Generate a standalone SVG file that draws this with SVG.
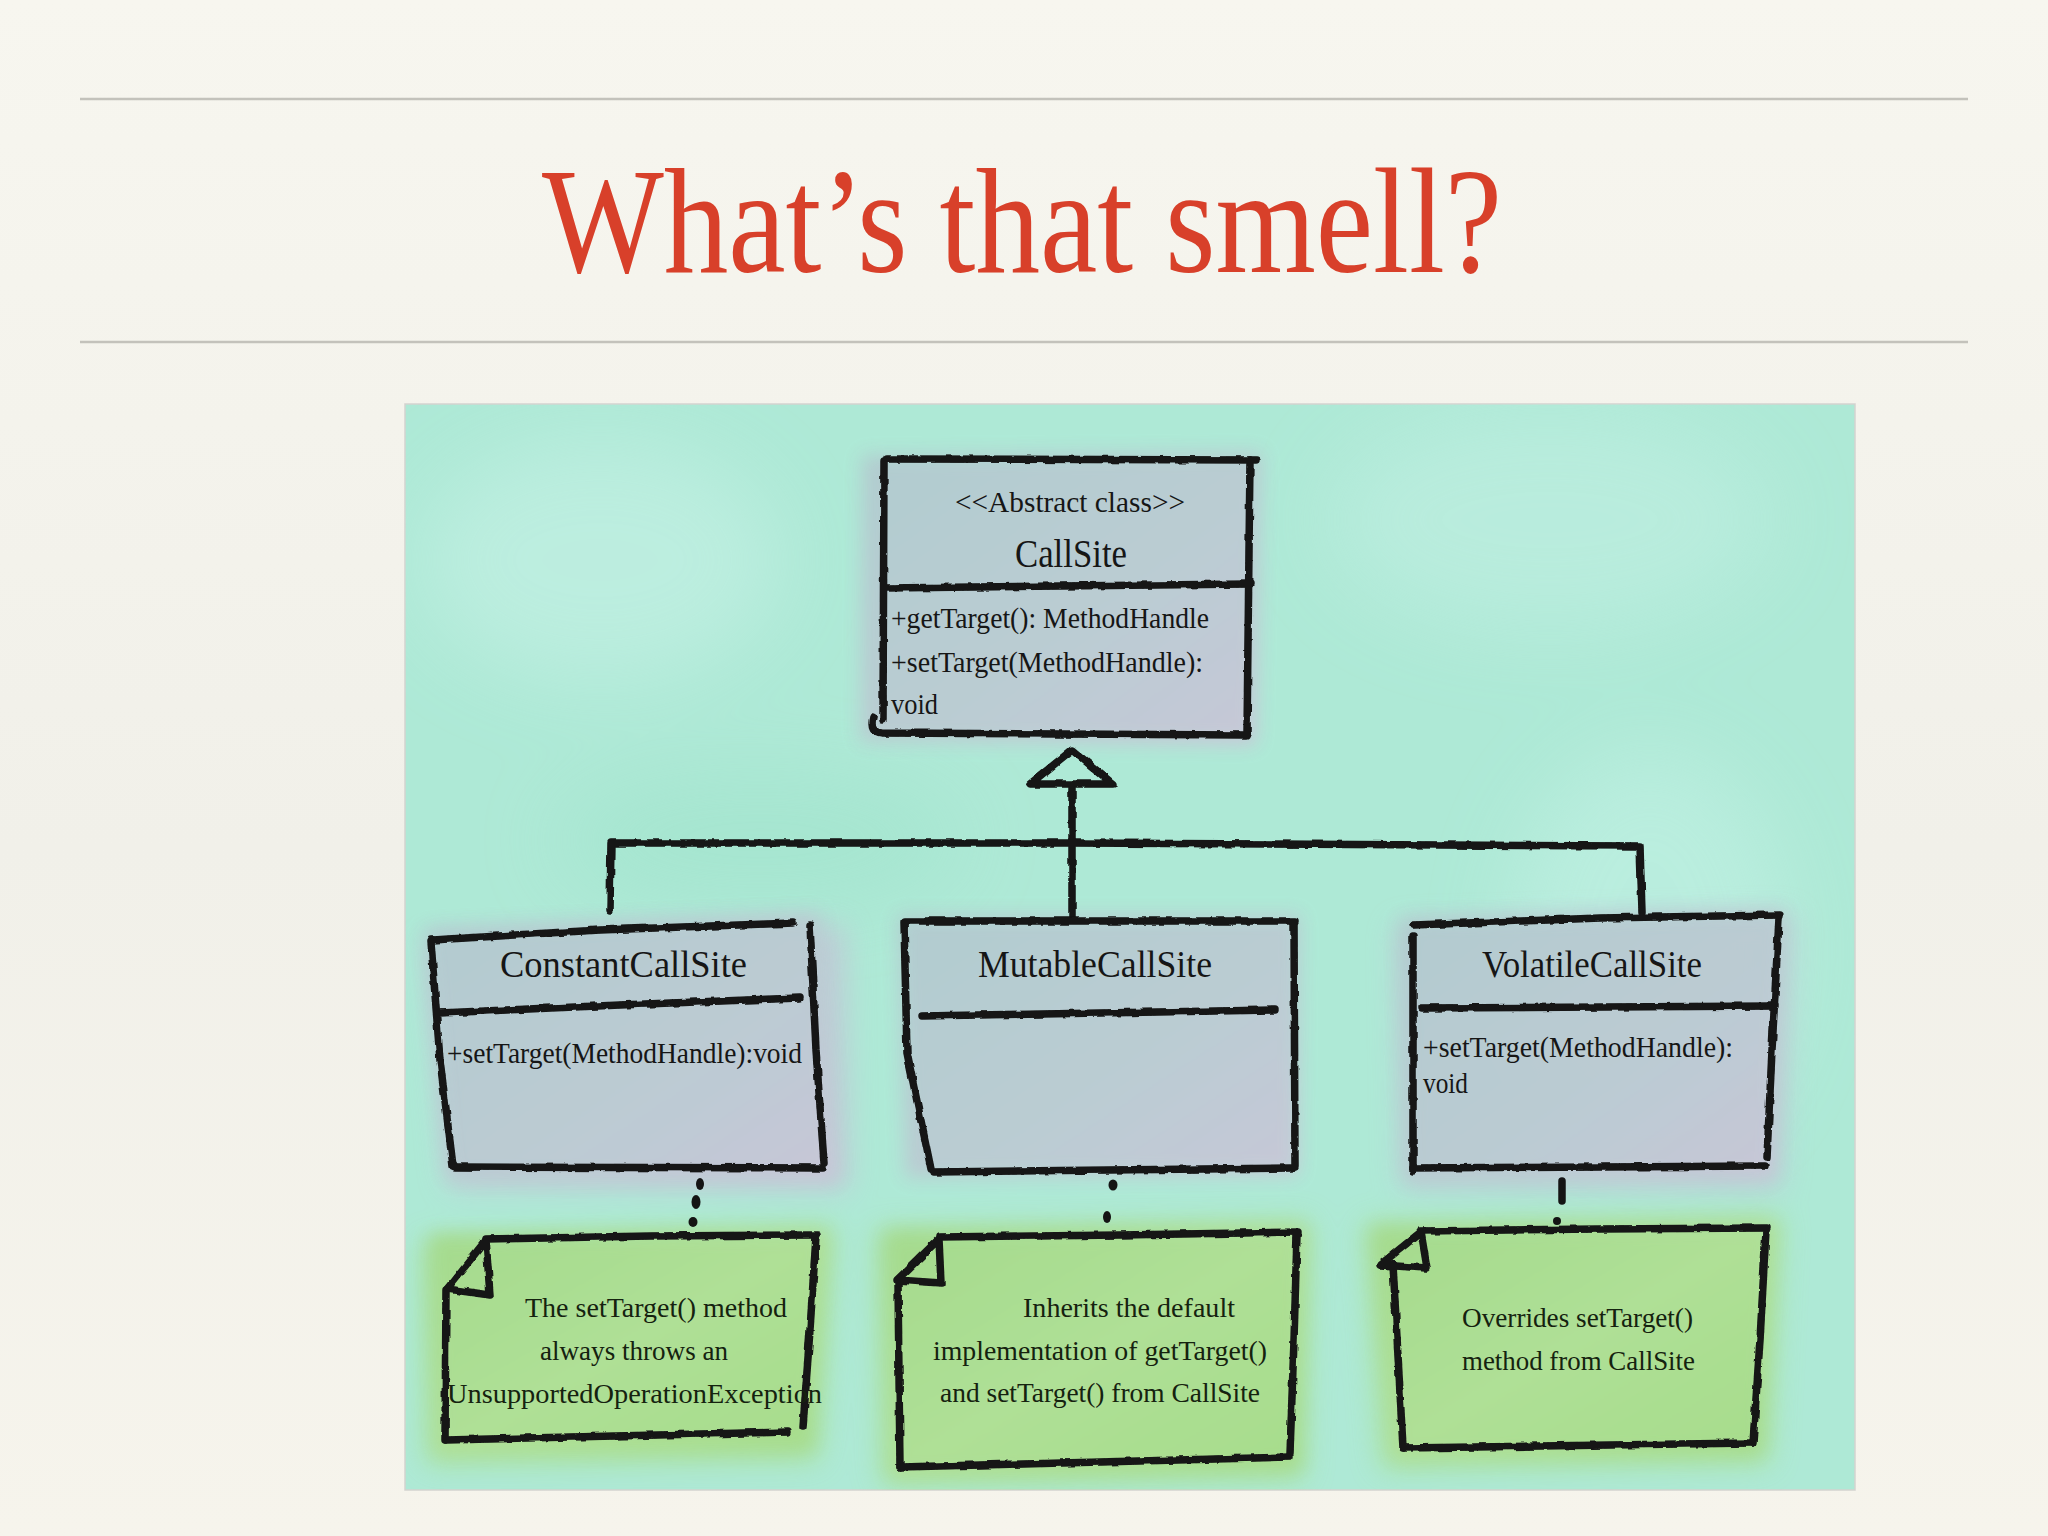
<svg xmlns="http://www.w3.org/2000/svg" width="2048" height="1536" viewBox="0 0 2048 1536">
<defs>
<style>
.hand{font-family:"Liberation Serif","Times New Roman",serif;fill:#161616;}
.nm{font-size:38px;}
.mb{font-size:29px;}
.nt{font-size:28px;fill:#15220f;}
.ln{fill:none;stroke:#141414;stroke-width:7.5;stroke-linecap:round;stroke-linejoin:round;}
.dot{fill:#141414;}
</style>
<linearGradient id="page" x1="0" y1="0" x2="0" y2="1">
<stop offset="0" stop-color="#f7f6ef"/>
<stop offset="0.55" stop-color="#f1f0e9"/>
<stop offset="1" stop-color="#f6f4ec"/>
</linearGradient>
<linearGradient id="cls" x1="0" y1="0" x2="1" y2="1">
<stop offset="0" stop-color="#b2cbcf"/>
<stop offset="0.6" stop-color="#bccbd3"/>
<stop offset="1" stop-color="#c9c6d8"/>
</linearGradient>
<linearGradient id="note" x1="0" y1="0" x2="1" y2="1">
<stop offset="0" stop-color="#a4da8c"/>
<stop offset="0.5" stop-color="#b0e096"/>
<stop offset="1" stop-color="#a6dc8a"/>
</linearGradient>
<clipPath id="panelClip"><rect x="405" y="404" width="1450" height="1086"/></clipPath>
<filter id="rough" filterUnits="userSpaceOnUse" x="0" y="0" width="2048" height="1536">
<feTurbulence type="fractalNoise" baseFrequency="0.09" numOctaves="2" seed="4"/>
<feDisplacementMap in="SourceGraphic" scale="4" xChannelSelector="R" yChannelSelector="G"/>
</filter>
<filter id="wash" filterUnits="userSpaceOnUse" x="0" y="0" width="2048" height="1536">
<feGaussianBlur stdDeviation="9"/>
</filter>
<filter id="halo" filterUnits="userSpaceOnUse" x="0" y="0" width="2048" height="1536">
<feGaussianBlur stdDeviation="14"/>
</filter>
<filter id="soft" filterUnits="userSpaceOnUse" x="0" y="0" width="2048" height="1536">
<feGaussianBlur stdDeviation="40"/>
</filter>
</defs>

<!-- page -->
<rect x="0" y="0" width="2048" height="1536" fill="url(#page)"/>
<line x1="80" y1="99" x2="1968" y2="99" stroke="#c3c2bb" stroke-width="2.5"/>
<line x1="80" y1="342" x2="1968" y2="342" stroke="#c3c2bb" stroke-width="2.5"/>
<text x="542" y="272" textLength="960" lengthAdjust="spacingAndGlyphs" font-family="'Liberation Serif','Times New Roman',serif" font-size="150" fill="#d8402a">What’s that smell?</text>

<!-- diagram panel -->
<rect x="405" y="404" width="1450" height="1086" fill="#aee9d6" stroke="#d3d3cf" stroke-width="1.5"/>
<g clip-path="url(#panelClip)">
<g filter="url(#soft)" opacity="0.7">
<ellipse cx="600" cy="560" rx="180" ry="120" fill="#c2f0e3"/>
<ellipse cx="1550" cy="520" rx="220" ry="110" fill="#bdeee0"/>
<ellipse cx="1650" cy="950" rx="140" ry="200" fill="#bff0e2"/>
<ellipse cx="760" cy="840" rx="200" ry="60" fill="#a2e4cd"/>
</g>

<!-- washes -->
<g filter="url(#halo)" opacity="0.75">
<path d="M420,1240 L835,1225 L820,1462 L425,1465 Z" fill="#a9de92"/>
<path d="M875,1228 L1312,1220 L1305,1480 L880,1486 Z" fill="#a9de92"/>
<path d="M1362,1222 L1782,1215 L1770,1465 L1380,1470 Z" fill="#a9de92"/>
<path d="M1395,925 L1795,915 L1782,1190 L1400,1188 Z" fill="#bcc9d3"/>
<path d="M425,940 L845,925 L850,1190 L448,1188 Z" fill="#c3c4d6"/>
</g>
<g filter="url(#wash)" opacity="0.95">
<path d="M862,455 L1262,452 L1256,745 L860,742 Z" fill="url(#cls)"/>
<path d="M425,928 L820,912 L838,1182 L448,1180 Z" fill="url(#cls)"/>
<path d="M898,915 L1300,915 L1298,1175 L905,1178 Z" fill="url(#cls)"/>
<path d="M1400,918 L1785,910 L1775,1180 L1405,1182 Z" fill="url(#cls)"/>
<path d="M430,1235 L828,1230 L812,1450 L435,1455 Z" fill="url(#note)"/>
<path d="M885,1232 L1305,1226 L1300,1470 L890,1478 Z" fill="url(#note)"/>
<path d="M1372,1228 L1775,1222 L1762,1455 L1392,1460 Z" fill="url(#note)"/>
</g>
</g>

<!-- connectors -->
<g id="connectors">
<g filter="url(#rough)">
<path class="ln" d="M1072,786 L1072,920"/>
<path class="ln" d="M610,910 L611,843 L1072,843 L1640,846 L1642,912"/>
<path d="M1072,750 L1030,784 L1113,784 Z" fill="#aee9d6" stroke="#141414" stroke-width="7.5" stroke-linejoin="round"/>
</g>
<ellipse class="dot" cx="700" cy="1184" rx="4" ry="6"/>
<ellipse class="dot" cx="696" cy="1202" rx="4.5" ry="7"/>
<ellipse class="dot" cx="693" cy="1222" rx="4.5" ry="5"/>
<ellipse class="dot" cx="1113" cy="1185" rx="4.5" ry="5.5"/>
<ellipse class="dot" cx="1107" cy="1217" rx="4" ry="6"/>
<path class="ln" d="M1562,1181 L1562,1201" stroke-width="8"/>
<ellipse class="dot" cx="1557" cy="1221" rx="4" ry="4"/>
</g>

<!-- CallSite -->
<g id="callsite">
<g filter="url(#rough)">
<path class="ln" d="M887,459 L1257,460"/>
<path class="ln" d="M1250,460 L1247,733"/>
<path class="ln" d="M884,462 L883,720"/>
<path class="ln" d="M873,717 Q869,732 882,733 L1246,735"/>
<path class="ln" d="M885,588 L1250,584"/>
</g>
<text class="hand mb" x="955" y="512" textLength="230" lengthAdjust="spacingAndGlyphs">&lt;&lt;Abstract class&gt;&gt;</text>
<text class="hand" x="1015" y="567" font-size="40" textLength="112" lengthAdjust="spacingAndGlyphs">CallSite</text>
<text class="hand mb" x="891" y="628" textLength="318" lengthAdjust="spacingAndGlyphs">+getTarget(): MethodHandle</text>
<text class="hand mb" x="891" y="672" textLength="312" lengthAdjust="spacingAndGlyphs">+setTarget(MethodHandle):</text>
<text class="hand mb" x="891" y="714" textLength="47" lengthAdjust="spacingAndGlyphs">void</text>
</g>

<!-- ConstantCallSite -->
<g id="constantCallSite">
<g filter="url(#rough)">
<path class="ln" d="M432,940 L600,930 L793,923"/>
<path class="ln" d="M810,925 L816,1050 L824,1163"/>
<path class="ln" d="M431,942 L440,1060 L453,1166"/>
<path class="ln" d="M455,1167 L822,1168"/>
<path class="ln" d="M440,1013 L620,1005 L800,998"/>
</g>
<text class="hand nm" x="500" y="977" textLength="247" lengthAdjust="spacingAndGlyphs">ConstantCallSite</text>
<text class="hand mb" x="447" y="1063" textLength="355" lengthAdjust="spacingAndGlyphs">+setTarget(MethodHandle):void</text>
</g>

<!-- MutableCallSite -->
<g id="mutableCallSite">
<g filter="url(#rough)">
<path class="ln" d="M905,921 L1295,921"/>
<path class="ln" d="M1294,922 L1295,1166"/>
<path class="ln" d="M904,922 L907,1053 L931,1169"/>
<path class="ln" d="M934,1172 L1292,1168"/>
<path class="ln" d="M922,1016 L1100,1013 L1275,1010"/>
</g>
<text class="hand nm" x="978" y="977" textLength="234" lengthAdjust="spacingAndGlyphs">MutableCallSite</text>
</g>

<!-- VolatileCallSite -->
<g id="volatileCallSite">
<g filter="url(#rough)">
<path class="ln" d="M1414,925 L1600,918 L1780,915"/>
<path class="ln" d="M1779,918 L1772,1050 L1767,1157"/>
<path class="ln" d="M1413,936 L1413,1172"/>
<path class="ln" d="M1413,1168 L1765,1166"/>
<path class="ln" d="M1422,1008 L1775,1006"/>
</g>
<text class="hand nm" x="1482" y="977" textLength="220" lengthAdjust="spacingAndGlyphs">VolatileCallSite</text>
<text class="hand mb" x="1423" y="1057" textLength="310" lengthAdjust="spacingAndGlyphs">+setTarget(MethodHandle):</text>
<text class="hand mb" x="1423" y="1093" textLength="45" lengthAdjust="spacingAndGlyphs">void</text>
</g>

<!-- Note 1 -->
<g id="note1">
<g filter="url(#rough)">
<path class="ln" d="M486,1239 L650,1236 L817,1235"/>
<path class="ln" d="M816,1236 L810,1330 L803,1427"/>
<path class="ln" d="M446,1440 L787,1432"/>
<path class="ln" d="M446,1290 L445,1440"/>
<path class="ln" d="M486,1240 L490,1295 L447,1289 Z"/>
</g>
<text class="hand nt" x="525" y="1317" textLength="262" lengthAdjust="spacingAndGlyphs">The setTarget() method</text>
<text class="hand nt" x="540" y="1360" textLength="188" lengthAdjust="spacingAndGlyphs">always throws an</text>
<text class="hand nt" x="447" y="1403" textLength="375" lengthAdjust="spacingAndGlyphs">UnsupportedOperationException</text>
</g>

<!-- Note 2 -->
<g id="note2">
<g filter="url(#rough)">
<path class="ln" d="M939,1237 L1120,1235 L1298,1232"/>
<path class="ln" d="M1297,1234 L1294,1340 L1290,1453"/>
<path class="ln" d="M900,1467 L1100,1462 L1290,1457"/>
<path class="ln" d="M898,1283 L900,1467"/>
<path class="ln" d="M939,1239 L941,1283 L897,1280 Z"/>
</g>
<text class="hand nt" x="1023" y="1317" textLength="212" lengthAdjust="spacingAndGlyphs">Inherits the default</text>
<text class="hand nt" x="933" y="1360" textLength="334" lengthAdjust="spacingAndGlyphs">implementation of getTarget()</text>
<text class="hand nt" x="940" y="1402" textLength="320" lengthAdjust="spacingAndGlyphs">and setTarget() from CallSite</text>
</g>

<!-- Note 3 -->
<g id="note3">
<g filter="url(#rough)">
<path class="ln" d="M1421,1231 L1600,1229 L1767,1228"/>
<path class="ln" d="M1766,1230 L1760,1340 L1753,1443"/>
<path class="ln" d="M1404,1448 L1752,1443"/>
<path class="ln" d="M1393,1264 L1403,1448"/>
<path class="ln" d="M1421,1232 L1427,1268 L1380,1265 Z"/>
</g>
<text class="hand nt" x="1462" y="1327" textLength="231" lengthAdjust="spacingAndGlyphs">Overrides setTarget()</text>
<text class="hand nt" x="1462" y="1370" textLength="233" lengthAdjust="spacingAndGlyphs">method from CallSite</text>
</g>
</svg>
